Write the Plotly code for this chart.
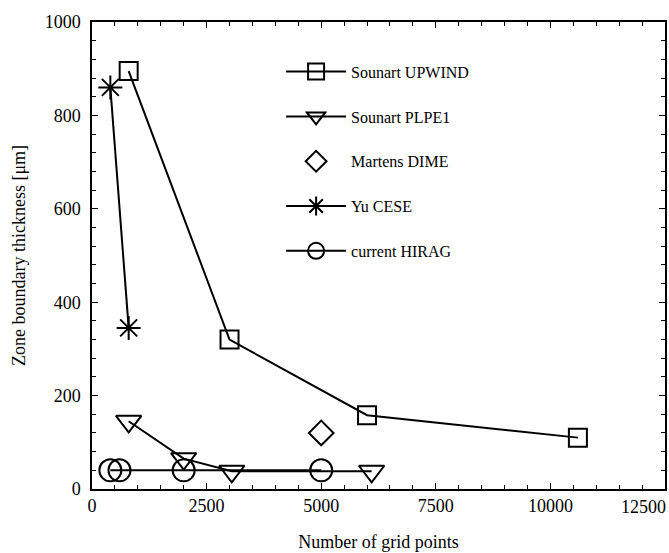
import plotly.graph_objects as go

# Zone boundary thickness vs. grid resolution for several schemes
upwind_x = [800, 3000, 6000, 10600]
upwind_y = [895, 320, 158, 110]

plpe1_x = [800, 2000, 3050, 6100]
plpe1_y = [145, 65, 38, 38]

dime_x = [5000]
dime_y = [120]

cese_x = [400, 800]
cese_y = [860, 345]

hirag_x = [400, 600, 2000, 5000]
hirag_y = [40, 40, 40, 40]

x_ticks = [0, 2500, 5000, 7500, 10000, 12500]
y_ticks = [0, 200, 400, 600, 800, 1000]

FONT = "'Liberation Serif', 'Times New Roman', Times, 'DejaVu Serif', serif"
BLACK = "black"

series = [
    ("Sounart UPWIND", upwind_x, upwind_y, "lines+markers", "square-open", 18),
    ("Sounart PLPE1", plpe1_x, plpe1_y, "lines+markers", "triangle-down-open", 22),
    ("Martens DIME", dime_x, dime_y, "markers", "diamond-open", 19),
    ("Yu CESE", cese_x, cese_y, "lines+markers", "asterisk-open", 20),
    ("current HIRAG", hirag_x, hirag_y, "lines+markers", "circle-open", 22),
]

fig = go.Figure()
for i, (name, xs, ys, mode, sym, size) in enumerate(series):
    fig.add_trace(go.Scatter(
        x=xs, y=ys, name=name, mode=mode, legendgroup=str(i),
        line=dict(color=BLACK, width=2),
        marker=dict(symbol=sym, size=size, color=BLACK,
                    line=dict(color=BLACK, width=2)),
    ))

axis_common = dict(
    showline=True, linecolor=BLACK, linewidth=1.5, mirror="ticks",
    ticks="inside", ticklen=6, tickwidth=1, tickcolor=BLACK,
    showgrid=False, zeroline=False, ticklabeloverflow="allow",
    automargin=False,
    tickfont=dict(family=FONT, size=18, color=BLACK),
)

# the last x label sits flush with the right edge of the figure,
# so it is placed as an annotation anchored on its right side
x_text = [str(v) for v in x_ticks[:-1]] + [""]

fig.update_xaxes(range=[0, 12500], tickmode="array", tickvals=x_ticks,
                 ticktext=x_text,
                 minor=dict(ticks="inside", ticklen=4, tickcolor=BLACK,
                            dtick=500, tick0=0),
                 title=dict(text="Number of grid points",
                            font=dict(family=FONT, size=18, color=BLACK),
                            standoff=20),
                 **axis_common)
fig.update_yaxes(range=[0, 1000], tickmode="array", tickvals=y_ticks,
                 ticktext=[str(v) for v in y_ticks],
                 minor=dict(ticks="inside", ticklen=4, tickcolor=BLACK,
                            dtick=40, tick0=0),
                 ticklabelstandoff=6,
                 title=dict(text="Zone boundary thickness [μm]",
                            font=dict(family=FONT, size=18, color=BLACK),
                            standoff=14),
                 **axis_common)

fig.add_annotation(x=x_ticks[-1], xref="x", y=0, yref="paper",
                   text=str(x_ticks[-1]), showarrow=False,
                   xanchor="right", yanchor="middle", xshift=3, yshift=-18,
                   font=dict(family=FONT, size=18, color=BLACK))

fig.update_layout(
    width=669, height=553,
    margin=dict(l=92, r=4, t=22, b=64),
    paper_bgcolor="white", plot_bgcolor="white",
    font=dict(family=FONT, color=BLACK),
    legend=dict(x=0.33, y=0.93, xanchor="left", yanchor="top",
                bgcolor="rgba(0,0,0,0)", tracegroupgap=21,
                itemwidth=60,
                font=dict(family=FONT, size=16, color=BLACK)),
)

fig.write_html("out.html")
